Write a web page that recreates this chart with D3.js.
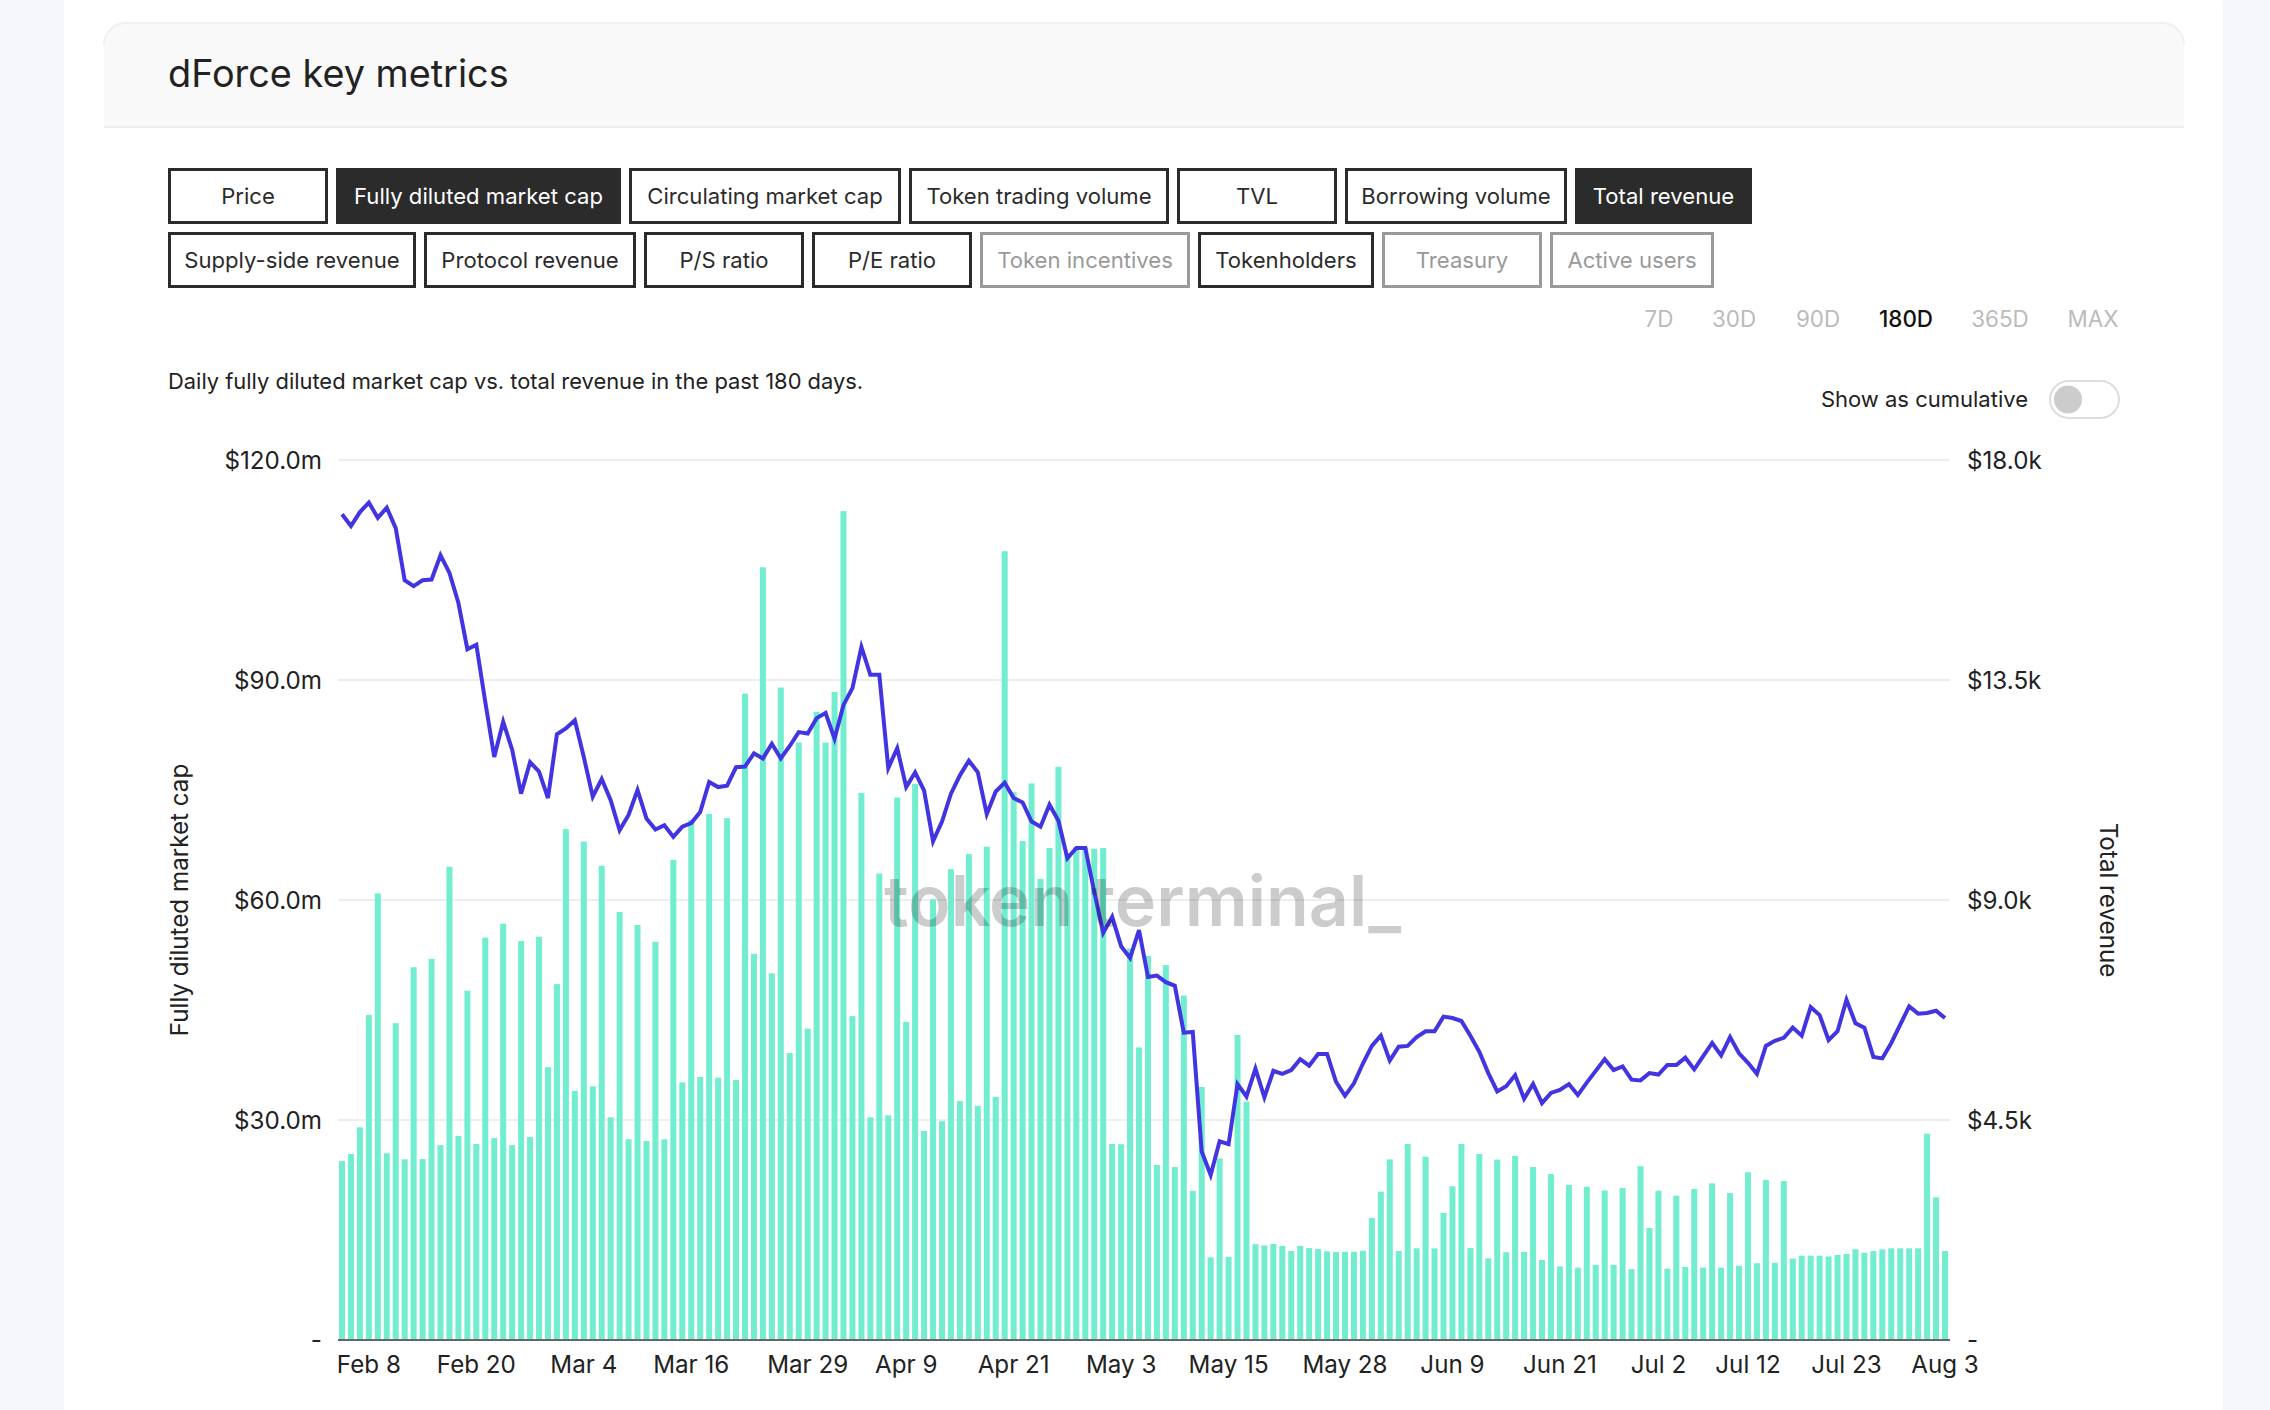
<!DOCTYPE html>
<html>
<head>
<meta charset="utf-8">
<title>dForce key metrics</title>
<script src="https://cdn.jsdelivr.net/npm/d3@7"></script>
<style>
  body { margin: 0; background: #f5f7fa; }
  svg { display: block; }
  text { font-family: Inter, "Liberation Sans", sans-serif; fill: #222; }
</style>
</head>
<body>
<div id="canvas"></div>
<script>
/*
 * Chart data
 */
var firstDay = new Date(2022, 1, 5);
var lastDay = new Date(2022, 7, 4);
var tickDays = ["2022-02-08","2022-02-20","2022-03-04","2022-03-16","2022-03-29","2022-04-09","2022-04-21","2022-05-03","2022-05-15","2022-05-28","2022-06-09","2022-06-21","2022-07-02","2022-07-12","2022-07-23","2022-08-03"];
var leftTicks = [0, 30, 60, 90, 120];
var rightTicks = [0, 4500, 9000, 13500, 18000];

// daily total revenue, $
var totalRevenue = [
  3660,3805,4350,6650,9135,3820,6480,3695,7625,3700,
  7795,3985,9680,4175,7145,4010,8230,4130,8515,3985,
  8160,4150,8250,5580,7280,10450,5095,10195,5190,9700,
  4555,8755,4105,8490,4070,8145,4105,9820,5270,10635,
  5380,10760,5365,10675,5320,13220,7900,15805,7500,13345,
  5870,12220,6370,12850,12220,13255,16955,6625,11190,4555,
  9540,4595,11095,6505,11375,4275,9015,4475,9630,4890,
  9940,4790,10090,4975,16135,11205,10205,11385,9430,10065,
  11725,9960,10080,10080,10045,10065,4010,4005,8010,5985,
  7855,3580,7670,3540,7045,3050,5175,1690,3715,1700,
  6240,4875,1960,1935,1965,1925,1820,1925,1880,1860,
  1815,1800,1805,1805,1825,2495,3035,3695,1820,4010,
  1875,3750,1875,2600,3145,4010,1880,3805,1670,3690,
  1795,3765,1800,3540,1635,3395,1505,3170,1480,3135,
  1535,3060,1535,3110,1450,3555,2290,3055,1460,2950,
  1495,3090,1480,3205,1480,3005,1520,3430,1570,3275,
  1580,3250,1665,1725,1725,1725,1710,1740,1760,1855,
  1785,1820,1855,1875,1875,1875,1875,4220,2920,1820
];

// daily fully diluted market cap, $m
var marketCap = [
  112.6,111.0,112.9,114.2,112.1,113.5,110.7,103.6,102.8,103.6,
  103.7,107.0,104.6,100.5,94.2,94.8,87.0,79.5,84.3,80.5,
  74.5,78.8,77.5,73.9,82.6,83.4,84.5,79.5,74.1,76.5,
  73.6,69.5,71.6,75.0,71.1,69.6,70.2,68.6,70.0,70.5,
  72.0,76.1,75.4,75.6,78.1,78.2,80.0,79.3,81.3,79.3,
  81.0,82.9,82.7,84.8,85.5,82.0,86.6,88.9,94.5,90.7,
  90.7,78.0,80.7,75.4,77.4,74.9,68.0,70.7,74.5,77.0,
  79.0,77.4,71.7,74.8,76.0,73.9,73.3,70.7,70.0,73.0,
  70.8,65.7,67.1,67.1,61.1,55.5,57.7,53.7,52.1,55.9,
  49.5,49.7,48.8,48.3,41.9,42.0,25.7,22.5,27.1,26.7,
  34.9,33.2,37.0,33.1,36.7,36.3,36.8,38.3,37.4,39.0,
  39.0,35.2,33.3,35.0,37.7,40.1,41.5,38.1,40.0,40.1,
  41.3,42.1,42.1,44.1,43.9,43.5,41.5,39.3,36.4,33.9,
  34.6,36.1,32.9,34.9,32.3,33.7,34.1,34.9,33.4,35.1,
  36.7,38.3,36.8,37.3,35.5,35.4,36.4,36.2,37.5,37.5,
  38.5,36.9,38.7,40.5,38.8,41.3,39.1,37.8,36.3,40.1,
  40.8,41.2,42.6,41.5,45.4,44.3,40.9,42.1,46.4,43.2,
  42.6,38.6,38.4,40.5,43.0,45.5,44.5,44.6,44.9,43.9
];

var metricRows = [
  ["Price","Fully diluted market cap","Circulating market cap","Token trading volume","TVL","Borrowing volume","Total revenue"],
  ["Supply-side revenue","Protocol revenue","P/S ratio","P/E ratio","Token incentives","Tokenholders","Treasury","Active users"]
];
var metricEdges = [
  [[168,328],[336,621],[629,901],[909,1169],[1177,1337],[1345,1567],[1575,1752]],
  [[168,416],[424,636],[644,804],[812,972],[980,1190],[1198,1374],[1382,1542],[1550,1714]]
];
var activeMetrics = ["Fully diluted market cap","Total revenue"];
var disabledMetrics = ["Token incentives","Treasury","Active users"];
var ranges = ["7D","30D","90D","180D","365D","MAX"];
var rangeCenters = [1659,1734,1818,1906,2000,2093];

var COLORS = {
  bar: "#72edd0",
  line: "#4235e1",
  grid: "#eeeeee",
  baseline: "#666666",
  dark: "#2b2b2b",
  muted: "#999999"
};

var svg = d3.select("#canvas").append("svg").attr("width", 2270).attr("height", 1410);

/*
 * Page card, header
 */
svg.append("rect").attr("x", 64).attr("y", -20).attr("width", 2159).attr("height", 1470).attr("rx", 26).style("fill", "white");

svg.append("path")
  .attr("d", "M104 127V45a22 22 0 0 1 22-22H2162a22 22 0 0 1 22 22V127Z")
  .style("fill", "#f9f9f9");
svg.append("path")
  .attr("d", "M104 45a22 22 0 0 1 22-22H2162a22 22 0 0 1 22 22")
  .style("fill", "none").style("stroke", "#f0f0f0").style("stroke-width", 2);
svg.append("line").attr("x1", 104).attr("x2", 2184).attr("y1", 127).attr("y2", 127)
  .style("stroke", "#eeeeee").style("stroke-width", 2);

svg.append("text").attr("x", 168).attr("y", 87).text("dForce key metrics")
  .style("font-size", "37.8px");

/*
 * Metric buttons
 */
metricRows.forEach(function(row, r){
  var top = 168 + r*64;
  row.forEach(function(name, i){
    var x0 = metricEdges[r][i][0];
    var x1 = metricEdges[r][i][1];
    var active = activeMetrics.indexOf(name) >= 0;
    var disabled = disabledMetrics.indexOf(name) >= 0;

    svg.append("rect").attr("x", x0+1.5).attr("y", top+1.5).attr("width", x1-x0-3).attr("height", 53)
      .style("fill", active ? COLORS.dark : "white")
      .style("stroke", disabled ? COLORS.muted : COLORS.dark)
      .style("stroke-width", 3);

    svg.append("text").attr("x", (x0+x1)/2).attr("y", top+35.5).text(name)
      .attr("text-anchor", "middle")
      .style("font-size", "22.1px")
      .style("fill", active ? "white" : (disabled ? COLORS.muted : COLORS.dark));
  });
});

ranges.forEach(function(name, i){
  svg.append("text").attr("x", rangeCenters[i]).attr("y", 327).text(name)
    .attr("text-anchor", "middle")
    .style("font-size", "22.4px")
    .style("font-weight", name == "180D" ? 500 : 400)
    .style("fill", name == "180D" ? "#111" : "#bbbbbb");
});

svg.append("text").attr("x", 168).attr("y", 389).text("Daily fully diluted market cap vs. total revenue in the past 180 days.")
  .style("font-size", "21.9px");

// cumulative toggle
svg.append("text").attr("x", 2028).attr("y", 407).text("Show as cumulative")
  .attr("text-anchor", "end").style("font-size", "22px");
svg.append("rect").attr("x", 2050).attr("y", 381).attr("width", 69).attr("height", 37).attr("rx", 18.5)
  .style("fill", "white").style("stroke", "#dddddd").style("stroke-width", 2);
svg.append("circle").attr("cx", 2068).attr("cy", 399.5).attr("r", 14).style("fill", "#cccccc");

/*
 * Chart
 */
var days = d3.timeDay.range(firstDay, lastDay);
var parseDay = d3.timeParse("%Y-%m-%d");

var x = d3.scaleBand().domain(days).range([339, 1948]).paddingInner(0.33).paddingOuter(0);
var yLeft = d3.scaleLinear().domain([0, 120]).range([1340, 460]);
var yRight = d3.scaleLinear().domain([0, 18000]).range([1340, 460]);

// left axis carries the gridlines
var leftAxis = svg.append("g").attr("transform", "translate(338,0)")
  .call(d3.axisLeft(yLeft).tickValues(leftTicks).tickSize(-1612).tickPadding(16).offset(0)
    .tickFormat(function(d){ return d == 0 ? "-" : "$" + d.toFixed(1) + "m"; }));
leftAxis.select(".domain").remove();
leftAxis.selectAll("line").style("stroke", COLORS.grid).style("stroke-width", 2);

var rightAxis = svg.append("g").attr("transform", "translate(1950,0)")
  .call(d3.axisRight(yRight).tickValues(rightTicks).tickSize(0).tickPadding(17).offset(0)
    .tickFormat(function(d){ return d == 0 ? "-" : "$" + (d/1000).toFixed(1) + "k"; }));
rightAxis.select(".domain").remove();

svg.selectAll("rect.bar").data(days).enter().append("rect")
  .attr("class", "bar")
  .attr("x", function(d){ return x(d); })
  .attr("width", x.bandwidth())
  .attr("y", function(d, i){ return yRight(totalRevenue[i]); })
  .attr("height", function(d, i){ return yRight(0) - yRight(totalRevenue[i]); })
  .style("fill", COLORS.bar);

var capLine = d3.line()
  .x(function(d, i){ return x(days[i]) + x.bandwidth()/2; })
  .y(function(d){ return yLeft(d); });

svg.append("path").datum(marketCap).attr("d", capLine)
  .style("fill", "none").style("stroke", COLORS.line).style("stroke-width", 4);

var bottomAxis = svg.append("g").attr("transform", "translate(0,1340)")
  .call(d3.axisBottom(x).tickValues(tickDays.map(parseDay)).tickSize(0).tickPadding(16).offset(0)
    .tickFormat(d3.timeFormat("%b %-d")));
bottomAxis.select(".domain").remove();

svg.append("line").attr("x1", 338).attr("x2", 1950).attr("y1", 1340).attr("y2", 1340)
  .style("stroke", COLORS.baseline).style("stroke-width", 2);

leftAxis.selectAll("text").attr("dy", "0.38em");
rightAxis.selectAll("text").attr("dy", "0.38em");
svg.selectAll(".tick text").style("font-size", "24.2px").style("font-family", "Inter, sans-serif").style("fill", "#222");

svg.append("text").attr("transform", "translate(187.5,900) rotate(-90)").text("Fully diluted market cap")
  .attr("text-anchor", "middle").style("font-size", "24.2px");
svg.append("text").attr("transform", "translate(2100,900) rotate(90)").text("Total revenue")
  .attr("text-anchor", "middle").style("font-size", "24.2px");

// watermark sits on top of the marks
svg.append("text").attr("x", 884).attr("y", 926).text("token terminal_")
  .style("font-size", "70px").style("font-weight", 600)
  .style("fill", "black").style("fill-opacity", 0.2);
</script>
</body>
</html>
